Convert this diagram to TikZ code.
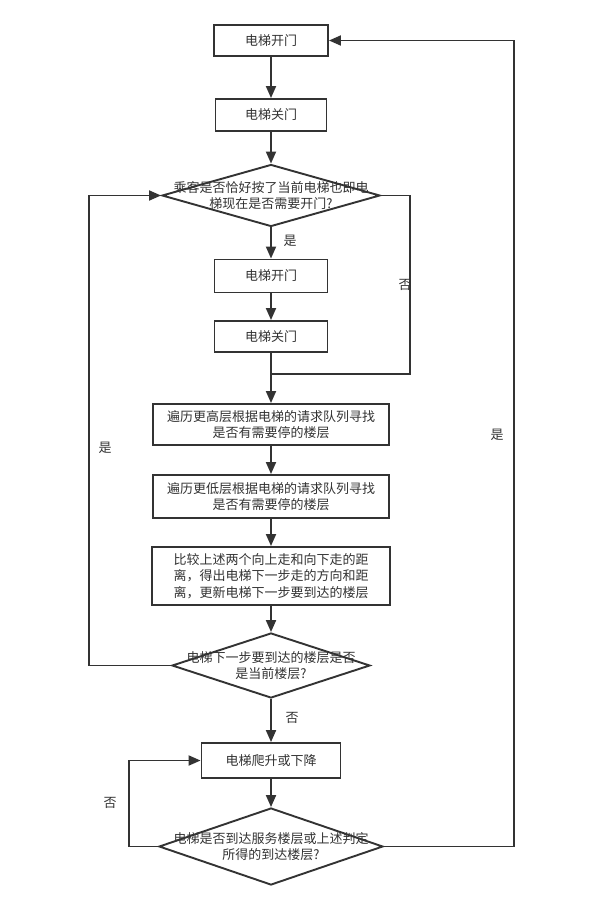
\documentclass[tikz,border=0pt]{standalone}
\usepackage{fontspec}
\setmainfont{Noto Sans CJK SC}
\usetikzlibrary{arrows.meta,shapes.geometric}
\definecolor{lc}{HTML}{333333}
\definecolor{tc}{HTML}{333333}
\begin{document}
\begin{tikzpicture}[x=1pt,y=-1pt,
  ln/.style={draw=lc, line width=1.9pt},
  arr/.style={ln, -{Triangle[length=12pt,width=10pt]}},
  box/.style={rectangle, draw=lc, line width=1.9pt, fill=white, inner sep=0pt, text=tc,
    font=\fontsize{13pt}{15.5pt}\selectfont, align=center},
  dia/.style={diamond, draw=lc, line width=1.9pt, fill=white, inner sep=0pt},
  dtext/.style={text=tc, font=\fontsize{13pt}{15.5pt}\selectfont, align=center, inner sep=0pt},
  lab/.style={text=tc, font=\fontsize{13pt}{15pt}\selectfont, inner sep=0pt}]
\useasboundingbox[fill=white] (0,0) rectangle (601,909);

\node[box, minimum width=114pt, minimum height=31pt] (b1) at (271,40.5) {电梯开门};
\node[box, minimum width=111pt, minimum height=32pt] (b2) at (271,115) {电梯关门};
\node[dia, minimum width=218pt, minimum height=62pt] (d1) at (271,195.5) {};
\node[dtext] (t1) at (d1) {乘客是否恰好按了当前电梯也即电\\梯现在是否需要开门?};
\node[box, minimum width=113pt, minimum height=33pt] (b3) at (271,276) {电梯开门};
\node[box, minimum width=113pt, minimum height=31pt] (b4) at (271,336.5) {电梯关门};
\coordinate (j1) at (271,374);
\node[box, minimum width=236pt, minimum height=41pt] (b5) at (271,424.5) {遍历更高层根据电梯的请求队列寻找\\是否有需要停的楼层};
\node[box, minimum width=236pt, minimum height=43pt] (b6) at (271,496.5) {遍历更低层根据电梯的请求队列寻找\\是否有需要停的楼层};
\node[box, minimum width=238pt, minimum height=58pt, font=\fontsize{13pt}{16.5pt}\selectfont] (b7) at (271,576) {比较上述两个向上走和向下走的距\\离，得出电梯下一步走的方向和距\\离，更新电梯下一步要到达的楼层};
\node[dia, minimum width=198pt, minimum height=65pt] (d2) at (271,665.5) {};
\node[dtext] (t2) at (d2) {电梯下一步要到达的楼层是否\\是当前楼层?};
\node[box, minimum width=139pt, minimum height=35pt] (b8) at (271,760.5) {电梯爬升或下降};
\node[dia, minimum width=224pt, minimum height=77pt] (d3) at (271,846.5) {};
\node[dtext] (t3) at (d3) {电梯是否到达服务楼层或上述判定\\所得的到达楼层?};

\coordinate (r1) at (410,195.5);
\coordinate (l2) at (89,665.5);
\coordinate (l3) at (129,846.5);
\coordinate (r3) at (514,846.5);

\draw[arr] (b1) -- (b2);
\draw[arr] (b2) -- (d1);
\draw[arr] (d1) -- (b3);
\draw[arr] (b3) -- (b4);
\draw[arr] (b4) -- (b5);
\draw[ln] (d1.east) -- (r1) |- (j1);
\draw[arr] (b5) -- (b6);
\draw[arr] (b6) -- (b7);
\draw[arr] (b7) -- (d2);
\draw[arr] (d2.west) -- (l2) |- (d1.west);
\draw[arr] (d2) -- (b8);
\draw[arr] (b8) -- (d3);
\draw[arr] (d3.west) -- (l3) |- (b8.west);
\draw[arr] (d3.east) -- (r3) |- (b1.east);

\node[lab] (y1) at (290,241) {是};
\node[lab] (n1) at (405,285) {否};
\node[lab] (y2) at (105,448) {是};
\node[lab] (n2) at (292,718) {否};
\node[lab] (n3) at (110,803) {否};
\node[lab] (y3) at (497,435) {是};
\end{tikzpicture}
\end{document}
